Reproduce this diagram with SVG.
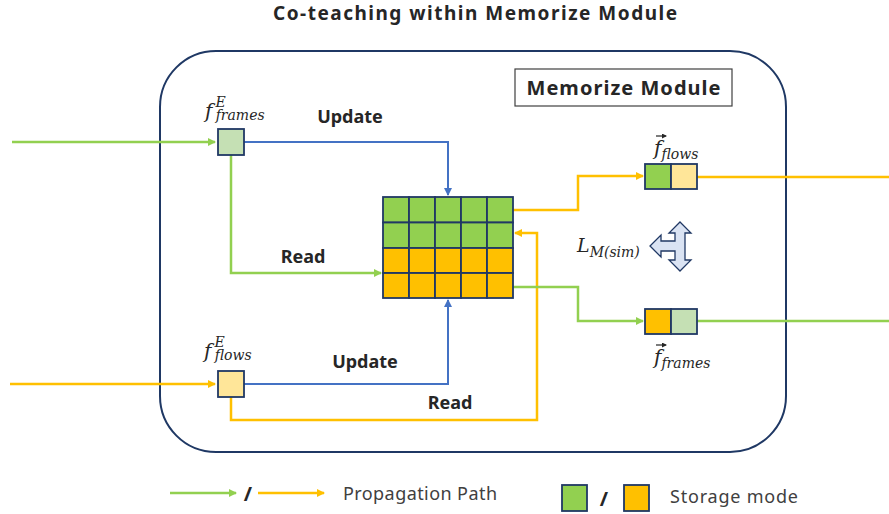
<svg xmlns="http://www.w3.org/2000/svg" width="889" height="514" viewBox="0 0 889 514">
<defs>
<style>
.title{font-family:"Noto Sans","Liberation Sans",sans-serif;font-weight:bold;font-size:19px;fill:#262626}
.lbl{font-family:"Noto Sans","Liberation Sans",sans-serif;font-weight:bold;font-size:18px;fill:#262626}
.leg{font-family:"Noto Sans","Liberation Sans",sans-serif;font-size:18px;fill:#404040}
.math{font-family:"DejaVu Serif","Liberation Serif",serif;font-style:italic;fill:#262626}
.g{stroke:#92D050;stroke-width:2.5;fill:none}
.o{stroke:#FFC000;stroke-width:2.5;fill:none}
.b{stroke:#4472C4;stroke-width:2;fill:none}
.cell{stroke:#203864;stroke-width:1.8}
.sq{stroke:#203864;stroke-width:1.8}
</style>
<marker id="ag" markerWidth="8" markerHeight="8" refX="7" refY="4" orient="auto" markerUnits="userSpaceOnUse"><path d="M0,0 L8,4 L0,8 Z" fill="#92D050"/></marker>
<marker id="ao" markerWidth="8" markerHeight="8" refX="7" refY="4" orient="auto" markerUnits="userSpaceOnUse"><path d="M0,0 L8,4 L0,8 Z" fill="#FFC000"/></marker>
<marker id="ab" markerWidth="8" markerHeight="8" refX="7" refY="4" orient="auto" markerUnits="userSpaceOnUse"><path d="M0,0 L8,4 L0,8 Z" fill="#4472C4"/></marker>
<marker id="vec" markerWidth="5" markerHeight="5" refX="4" refY="2.5" orient="auto" markerUnits="userSpaceOnUse"><path d="M0,0 L5,2.5 L0,5 Z" fill="#262626"/></marker>
</defs>
<rect width="889" height="514" fill="#fff"/>
<text class="title" x="475" y="20" text-anchor="middle" textLength="404" lengthAdjust="spacing">Co-teaching within Memorize Module</text>

<g id="module">
<rect x="160" y="51" width="626" height="401" rx="56" ry="56" fill="none" stroke="#1F3864" stroke-width="2"/>
</g>
<g id="module-title">
<rect x="515" y="69" width="217" height="37" fill="#fff" stroke="#404040" stroke-width="1.2"/>
<text x="623.5" y="95" text-anchor="middle" font-family="Noto Sans, Liberation Sans, sans-serif" font-size="20" font-weight="bold" fill="#262626" textLength="194" lengthAdjust="spacing">Memorize Module</text>
</g>

<g id="connectors">
<path class="g" d="M12,142 H215" marker-end="url(#ag)"/>
<path class="o" d="M10,384 H215" marker-end="url(#ao)"/>
<path class="b" d="M244,142 H448 V195" marker-end="url(#ab)"/>
<path class="g" d="M231,155 V273 H381" marker-end="url(#ag)"/>
<path class="b" d="M244,384 H448 V300" marker-end="url(#ab)"/>
<path class="o" d="M231,397 V420 H537 V233 H515" marker-end="url(#ao)"/>
<path class="o" d="M513,210 H578 V176 H643" marker-end="url(#ao)"/>
<path class="g" d="M513,287 H578 V321 H643" marker-end="url(#ag)"/>
<path class="o" d="M697,177 H889"/>
<path class="g" d="M697,321 H889"/>
<text class="lbl" x="350" y="123" text-anchor="middle">Update</text>
<text class="lbl" x="303" y="263" text-anchor="middle">Read</text>
<text class="lbl" x="365" y="368" text-anchor="middle">Update</text>
<text class="lbl" x="450" y="409" text-anchor="middle">Read</text>
</g>

<g id="f-frames-E">
<rect class="sq" x="218" y="129" width="26" height="26" fill="#C5E0B4"/>
<text class="math" x="205" y="118" font-size="20">f<tspan font-size="14" dx="3" dy="-11">E</tspan><tspan font-size="14" dx="-10" dy="13">frames</tspan></text>
</g>

<g id="f-flows-E">
<rect class="sq" x="218" y="371" width="26" height="26" fill="#FFE699"/>
<text class="math" x="204" y="358" font-size="20">f<tspan font-size="14" dx="3" dy="-11">E</tspan><tspan font-size="14" dx="-10" dy="13">flows</tspan></text>
</g>

<g id="memory">
<g class="cell" fill="#92D050">
<rect x="383" y="197" width="26" height="25.5"/><rect x="409" y="197" width="26" height="25.5"/><rect x="435" y="197" width="26" height="25.5"/><rect x="461" y="197" width="26" height="25.5"/><rect x="487" y="197" width="26" height="25.5"/>
<rect x="383" y="222.5" width="26" height="25.5"/><rect x="409" y="222.5" width="26" height="25.5"/><rect x="435" y="222.5" width="26" height="25.5"/><rect x="461" y="222.5" width="26" height="25.5"/><rect x="487" y="222.5" width="26" height="25.5"/>
</g>
<g class="cell" fill="#FFC000">
<rect x="383" y="248" width="26" height="25"/><rect x="409" y="248" width="26" height="25"/><rect x="435" y="248" width="26" height="25"/><rect x="461" y="248" width="26" height="25"/><rect x="487" y="248" width="26" height="25"/>
<rect x="383" y="273" width="26" height="25"/><rect x="409" y="273" width="26" height="25"/><rect x="435" y="273" width="26" height="25"/><rect x="461" y="273" width="26" height="25"/><rect x="487" y="273" width="26" height="25"/>
</g>
</g>

<g id="f-flows-out">
<rect class="sq" x="645" y="164" width="26" height="25" fill="#92D050"/>
<rect class="sq" x="671" y="164" width="26" height="25" fill="#FFE699"/>
<text class="math" x="654" y="155" font-size="20">f<tspan font-size="14" dy="4">flows</tspan></text>
<path d="M656,136 H666" stroke="#262626" stroke-width="1.2" marker-end="url(#vec)"/>
</g>

<g id="f-frames-out">
<rect class="sq" x="645" y="309" width="26" height="25" fill="#FFC000"/>
<rect class="sq" x="671" y="309" width="26" height="25" fill="#C5E0B4"/>
<text class="math" x="654" y="364" font-size="20">f<tspan font-size="14" dy="4">frames</tspan></text>
<path d="M656,345 H666" stroke="#262626" stroke-width="1.2" marker-end="url(#vec)"/>
</g>

<g id="loss">
<text class="math" x="577" y="252" font-size="19">L<tspan font-size="14" dy="5">M(sim)</tspan></text>
<path d="M680,222 L691,233 L685,233 L685,260 L691,260 L680,271 L669,260 L675,260 L675,251 L661,251 L661,257 L650,246 L661,235 L661,241 L675,241 L675,233 L669,233 Z" fill="#DAE3F3" stroke="#203864" stroke-width="1.3" stroke-linejoin="miter"/>
</g>

<g id="legend">
<path class="g" d="M170,493 H236" stroke-width="2" marker-end="url(#ag)"/>
<text x="248" y="501" text-anchor="middle" font-family="Noto Sans, Liberation Sans, sans-serif" font-size="20" font-weight="bold" fill="#262626">/</text>
<path class="o" d="M258,493 H324" stroke-width="2" marker-end="url(#ao)"/>
<text class="leg" x="343" y="500" textLength="154" lengthAdjust="spacing">Propagation Path</text>
<rect class="sq" x="562" y="485" width="25" height="26" fill="#92D050"/>
<text x="604" y="506" text-anchor="middle" font-family="Noto Sans, Liberation Sans, sans-serif" font-size="20" font-weight="bold" fill="#262626">/</text>
<rect class="sq" x="624" y="485" width="25" height="26" fill="#FFC000"/>
<text class="leg" x="670" y="503" textLength="128" lengthAdjust="spacing">Storage mode</text>
</g>
</svg>
